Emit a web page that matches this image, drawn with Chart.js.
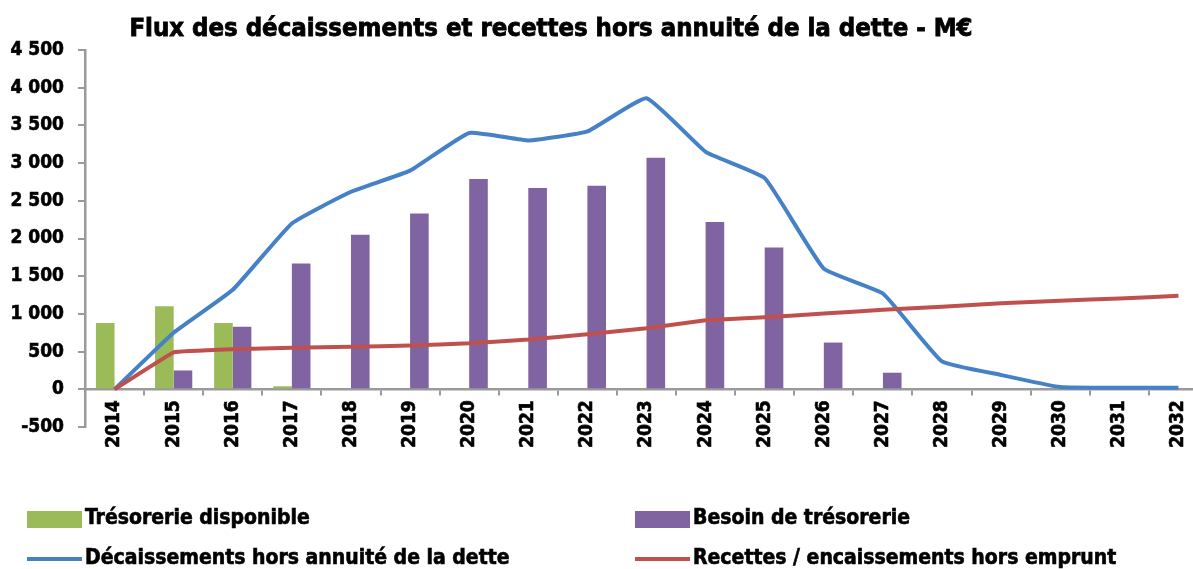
<!DOCTYPE html>
<html>
<head>
<meta charset="utf-8">
<script src="https://cdn.jsdelivr.net/npm/chart.js@4.4.1/dist/chart.umd.min.js"></script>
<style>
  html, body { margin: 0; padding: 0; background: #ffffff; overflow: hidden; width: 1193px; height: 569px; }
  #wrap { position: absolute; left: 0; top: 0; width: 1216px; height: 569px; }
</style>
</head>
<body>
<div id="wrap"><canvas id="chart" width="1216" height="569"></canvas></div>
<script>
// Years on the category axis
const years = ['2014', '2015', '2016', '2017', '2018', '2019', '2020', '2021', '2022', '2023',
               '2024', '2025', '2026', '2027', '2028', '2029', '2030', '2031', '2032'];

// Series values, M€
const tresorerieDisponible = [880, 1100, 880, 40, 0, 0, 0, 0, 0, 0, 0, 0, 0, 0, 0, 0, 0, 0, 0];
const besoinTresorerie     = [0, 250, 830, 1670, 2050, 2330, 2790, 2670, 2700, 3070, 2220, 1880, 620, 220, 0, 0, 0, 0, 0];
const decaissements        = [0, 750, 1320, 2200, 2620, 2900, 3400, 3300, 3420, 3860, 3150, 2800, 1600, 1270, 370, 190, 30, 20, 20];
const recettes             = [0, 490, 530, 550, 565, 580, 610, 660, 730, 810, 915, 955, 1005, 1055, 1095, 1140, 1175, 1205, 1240];

// Value axis ticks
const yTicks = [-500, 0, 500, 1000, 1500, 2000, 2500, 3000, 3500, 4000, 4500];

const seriesLabels = [
  'Trésorerie disponible',
  'Besoin de trésorerie',
  'Décaissements hors annuité de la dette',
  'Recettes / encaissements hors emprunt'
];
const titleText = 'Flux des décaissements et recettes hors annuité de la dette - M€';

const FONT = "'DejaVu Sans Condensed', 'DejaVu Sans', sans-serif";
const AXIS_GREY = '#9a9a9a';

function formatThousands(v) {
  return String(v).replace(/\B(?=(\d{3})+(?!\d))/g, ' ');
}

// Title drawn over the upper band
const titlePlugin = {
  id: 'topTitle',
  afterDraw(chart) {
    const ctx = chart.ctx;
    ctx.save();
    ctx.font = 'bold 25.5px ' + FONT;
    ctx.fillStyle = '#000';
    ctx.strokeStyle = '#000';
    ctx.lineWidth = 0.8;
    ctx.textAlign = 'center';
    ctx.textBaseline = 'middle';
    ctx.fillText(titleText, 551, 29);
    ctx.strokeText(titleText, 551, 29);
    ctx.restore();
  }
};

// Two-column legend under the plot
const legendPlugin = {
  id: 'gridLegend',
  afterDraw(chart) {
    const ctx = chart.ctx;
    const cols = [27, 635];
    const rows = [519, 559];
    ctx.save();
    ctx.font = 'bold 21px ' + FONT;
    ctx.textBaseline = 'middle';
    ctx.textAlign = 'left';
    ctx.strokeStyle = '#000';
    ctx.lineWidth = 0.6;
    chart.data.datasets.forEach((ds, i) => {
      const x = cols[i % 2];
      const y = rows[Math.floor(i / 2)];
      if (ds.type === 'line') {
        ctx.fillStyle = ds.borderColor;
        ctx.fillRect(x, y - 2, 55, 4);
      } else {
        ctx.fillStyle = ds.backgroundColor;
        ctx.fillRect(x, y - 8, 55, 17);
      }
      ctx.fillStyle = '#000';
      ctx.fillText(ds.label, x + 58, y);
      ctx.strokeText(ds.label, x + 58, y);
    });
    ctx.restore();
  }
};

new Chart(document.getElementById('chart'), {
  data: {
    labels: years,
    datasets: [
      {
        type: 'bar',
        label: seriesLabels[0],
        data: tresorerieDisponible,
        backgroundColor: '#9bbb59',
        order: 2
      },
      {
        type: 'bar',
        label: seriesLabels[1],
        data: besoinTresorerie,
        backgroundColor: '#8064a2',
        order: 2
      },
      {
        type: 'line',
        label: seriesLabels[2],
        data: decaissements,
        borderColor: '#4581c6',
        backgroundColor: '#4581c6',
        borderWidth: 4,
        pointRadius: 0,
        tension: 0.12,
        order: 1
      },
      {
        type: 'line',
        label: seriesLabels[3],
        data: recettes,
        borderColor: '#c0504d',
        backgroundColor: '#c0504d',
        borderWidth: 4,
        pointRadius: 0,
        tension: 0.05,
        order: 0
      }
    ]
  },
  options: {
    responsive: false,
    animation: false,
    devicePixelRatio: 1,
    layout: { padding: { left: 0, right: 8, top: 50, bottom: 142 } },
    datasets: {
      bar: { categoryPercentage: 0.63, barPercentage: 1.0 }
    },
    plugins: {
      legend: { display: false },
      title: { display: false },
      tooltip: { enabled: false }
    },
    scales: {
      x: {
        type: 'category',
        position: { y: 0 },
        offset: true,
        grid: {
          offset: true,
          drawOnChartArea: false,
          drawTicks: true,
          tickLength: 5,
          color: AXIS_GREY,
          lineWidth: 2
        },
        border: { color: AXIS_GREY, width: 2.5 },
        ticks: {
          autoSkip: false,
          minRotation: 90,
          maxRotation: 90,
          padding: 6,
          color: '#000',
          textStrokeColor: '#000',
          textStrokeWidth: 0.6,
          font: { family: FONT, size: 19, weight: 'bold' }
        }
      },
      y: {
        min: -500,
        max: 4500,
        afterBuildTicks(scale) {
          scale.ticks = yTicks.map(v => ({ value: v }));
        },
        afterFit(scale) {
          scale.width = 85;
        },
        grid: {
          drawOnChartArea: false,
          drawTicks: true,
          tickLength: 7,
          color: AXIS_GREY,
          lineWidth: 2
        },
        border: { color: AXIS_GREY, width: 2.5 },
        ticks: {
          padding: 14,
          color: '#000',
          textStrokeColor: '#000',
          textStrokeWidth: 0.6,
          font: { family: FONT, size: 19, weight: 'bold' },
          callback: (v) => formatThousands(v)
        }
      }
    }
  },
  plugins: [titlePlugin, legendPlugin]
});
</script>
</body>
</html>
